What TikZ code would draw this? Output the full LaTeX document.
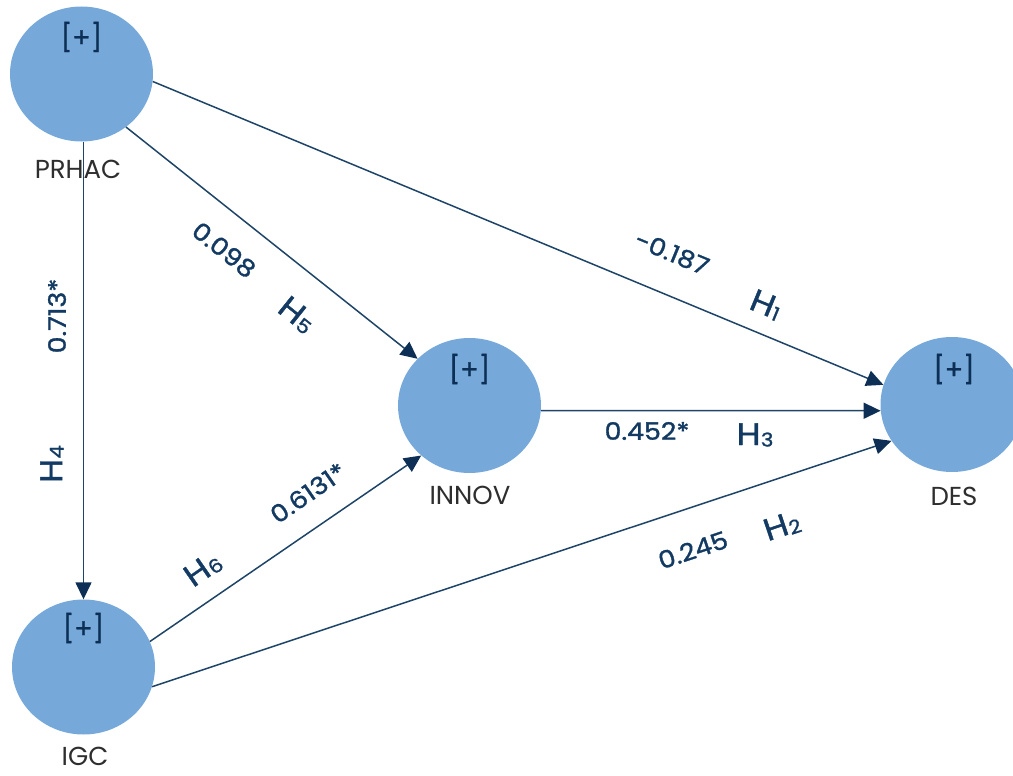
\documentclass[tikz,border=0pt]{standalone}
\usepackage{fontspec}
\setmainfont{Poppins}
\newfontfamily\coeffont[FakeBold=1.3, FakeStretch=1.12]{Poppins}
\newfontfamily\plusfont[FakeBold=1.0]{Poppins}
\usetikzlibrary{shapes.geometric,arrows.meta}
\definecolor{latentfill}{HTML}{76A9DA}
\definecolor{pathcol}{HTML}{1E4468}
\definecolor{tipcol}{HTML}{0D2F55}
\definecolor{coefcol}{HTML}{123A62}
\definecolor{namecol}{HTML}{2E2E2E}
\newcommand{\hyp}[1]{H\kern0.3pt\raisebox{-1.5pt}{\fontsize{19}{19}\selectfont #1}}
\tikzset{
  latent/.style={ellipse, fill=latentfill, inner sep=0pt,
    minimum width=143pt, minimum height=135pt},
  plus/.style={text=tipcol, font=\plusfont\fontsize{27}{27}\selectfont},
  varname/.style={text=namecol, font=\fontsize{26}{26}\selectfont},
  coef/.style={text=coefcol, font=\coeffont\fontsize{24}{24}\selectfont, inner sep=0pt},
  hlabel/.style={text=coefcol, font=\coeffont\fontsize{31}{31}\selectfont, inner sep=0pt},
  path/.style={draw=pathcol, line width=1.5pt,
    -{Triangle[length=17pt, width=16pt, color=tipcol]}}
}
\begin{document}
\begin{tikzpicture}[x=1pt, y=-1pt]
\useasboundingbox (0,0) rectangle (1013,776);

% latent variables
\node[latent] (prhac) at (81.5,74) {};
\node[latent] (innov) at (469.5,405.5) {};
\node[latent] (des)   at (952,404.5) {};
\node[latent] (igc)   at (83.5,667) {};

% indicator markers
\node[plus] (prhacplus) at (81.5,37) {[+]};
\node[plus] (innovplus) at (469.5,369) {[+]};
\node[plus] (desplus)   at (954,369) {[+]};
\node[plus] (igcplus)   at (83.5,628) {[+]};

% variable names
\node[varname] (prhacname) at (78,169) {PRHAC};
\node[varname] (innovname) at (470,495.5) {INNOV};
\node[varname] (desname)   at (954,496) {DES};
\node[varname] (igcname)   at (85,756.5) {IGC};

% structural paths
\draw[path] (prhac.-6)  -- (des.164.5);
\draw[path] (prhac.-50) -- (innov.138);
\draw[path] (igc.north |- prhac.south) -- (igc.north);
\draw[path] (innov.-4)  -- (des.185.8);
\draw[path] (igc.21)    -- (innov.226.6);
\draw[path] (igc.-16.5) -- (des.211.3);

% path coefficients and hypotheses
\node[coef, rotate=90]     (c4) at (57,316)  {0.713*};
\node[hlabel, rotate=90]   (h4) at (52,464)  {\hyp{4}};
\node[coef, rotate=-38.6]  (c5) at (224,250) {0.098};
\node[hlabel, rotate=-38.6](h5) at (297,315) {\hyp{5}};
\node[coef, rotate=-22.4]  (c1) at (672,253) {-0.187};
\node[hlabel, rotate=-22.4](h1) at (766,305) {\hyp{1}};
\node[coef]                (c3) at (647,431) {0.452*};
\node[hlabel]              (h3) at (755,435) {\hyp{3}};
\node[coef, rotate=18.5]   (c2) at (693,550) {0.245};
\node[hlabel, rotate=18.5] (h2) at (782,526) {\hyp{2}};
\node[coef, rotate=34.8]   (c6) at (308,493) {0.6131*};
\node[hlabel, rotate=34.8] (h6) at (203,569) {\hyp{6}};
\end{tikzpicture}
\end{document}
